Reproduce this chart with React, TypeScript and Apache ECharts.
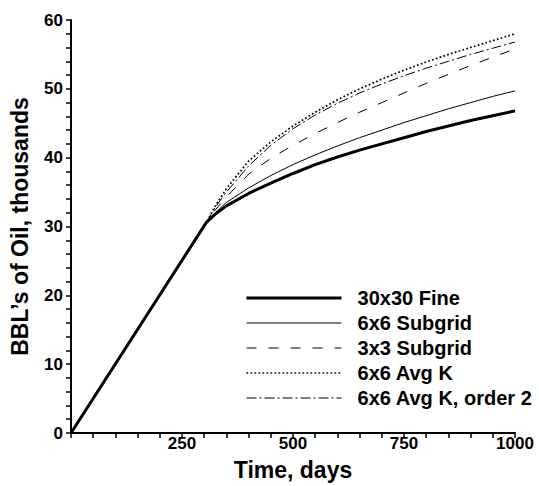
import React, { useEffect, useRef } from "react";
import * as echarts from "echarts";

const days = [0, 305, 325, 350, 400, 450, 500, 550, 600, 650, 700, 750, 800, 850, 900, 950, 1000];
const fine30 = [0, 30.6, 31.8, 33.0, 34.8, 36.3, 37.7, 39.0, 40.1, 41.1, 42.0, 42.9, 43.8, 44.6, 45.4, 46.1, 46.8];
const sub6 = [0, 30.6, 32.0, 33.5, 35.6, 37.4, 39.0, 40.4, 41.7, 42.9, 44.0, 45.1, 46.1, 47.1, 48.0, 48.9, 49.7];
const sub3 = [0, 30.6, 32.4, 34.3, 37.6, 39.9, 41.8, 43.5, 45.1, 46.6, 48.0, 49.4, 50.8, 52.1, 53.4, 54.6, 55.8];
const avgK = [0, 30.6, 33.0, 35.5, 39.5, 42.3, 44.6, 46.6, 48.4, 50.0, 51.4, 52.7, 53.9, 55.0, 56.0, 57.0, 58.0];
const avgK2 = [0, 30.6, 32.8, 35.0, 38.8, 41.8, 44.2, 46.2, 47.9, 49.4, 50.7, 51.9, 53.0, 54.0, 55.0, 55.9, 56.8];
const seriesNames = ["30x30 Fine", "6x6 Subgrid", "3x3 Subgrid", "6x6 Avg K", "6x6 Avg K, order 2"];
const xTicks = [0, 250, 500, 750, 1000];
const yTicks = [0, 10, 20, 30, 40, 50, 60];

const FONT = "'Liberation Sans', Arial, sans-serif";

export default function App() {
  const ref = useRef<HTMLDivElement>(null);
  useEffect(() => {
    if (!ref.current) return;
    const chart = echarts.init(ref.current, undefined, { renderer: "svg" });
    const mk = (vals: number[]) => days.map((d, i) => [d, vals[i]]);
    const styles: any[] = [
      { width: 3, type: "solid" },
      { width: 1, type: "solid" },
      { width: 1, type: [10, 12] },
      { width: 1.7, type: [1.7, 2.3] },
      { width: 1, type: [10, 3, 2, 3] },
    ];
    const all = [fine30, sub6, sub3, avgK, avgK2];
    chart.setOption({
      animation: false,
      backgroundColor: "#ffffff",
      grid: { left: 70, right: 24, top: 20, bottom: 52, containLabel: false },
      legend: {
        orient: "vertical",
        left: 245,
        top: 288,
        padding: 0,
        itemWidth: 95,
        itemHeight: 20,
        itemGap: 5,
        data: seriesNames.map((n, i) => ({
          name: n,
          lineStyle: { color: "#000", ...styles[i] },
        })),
        itemStyle: { opacity: 0, borderWidth: 0 },
        formatter: (n: string) => "  " + n,
        textStyle: {
          fontFamily: FONT,
          fontWeight: "bold",
          fontSize: 20,
          color: "#000",
        },
      },
      xAxis: {
        type: "value",
        min: xTicks[0],
        max: xTicks[xTicks.length - 1],
        interval: 250,
        name: "Time, days",
        nameLocation: "middle",
        nameGap: 25,
        nameTextStyle: { fontFamily: FONT, fontWeight: "bold", fontSize: 23, color: "#000" },
        axisLine: { show: true, lineStyle: { color: "#000", width: 2 } },
        axisTick: { show: true, length: 5, lineStyle: { color: "#000", width: 1.5 } },
        minorTick: { show: true, splitNumber: 5, length: 5, lineStyle: { color: "#000", width: 1.5 } },
        splitLine: { show: false },
        axisLabel: {
          margin: 2,
          fontFamily: FONT,
          fontWeight: "bold",
          fontSize: 17,
          color: "#000",
          formatter: (v: number) => (v === 0 ? "" : String(v)),
        },
      },
      yAxis: {
        type: "value",
        min: yTicks[0],
        max: yTicks[yTicks.length - 1],
        interval: 10,
        name: "BBL\u2019s of Oil, thousands",
        nameLocation: "middle",
        nameGap: 40,
        nameTextStyle: { fontFamily: FONT, fontWeight: "bold", fontSize: 23, color: "#000" },
        axisLine: { show: true, lineStyle: { color: "#000", width: 2 } },
        axisTick: { show: true, length: 5, lineStyle: { color: "#000", width: 1.5 } },
        minorTick: { show: true, splitNumber: 5, length: 5, lineStyle: { color: "#000", width: 1.5 } },
        splitLine: { show: false },
        axisLabel: { margin: 8, fontFamily: FONT, fontWeight: "bold", fontSize: 17, color: "#000" },
      },
      series: all.map((vals, i) => ({
        name: seriesNames[i],
        type: "line",
        data: mk(vals),
        showSymbol: false,
        symbol: "none",
        smooth: false,
        z: 10 - i,
        color: "#000",
        lineStyle: { color: "#000", ...styles[i] },
      })),
    });
    return () => chart.dispose();
  }, []);
  return <div ref={ref} style={{ width: 539, height: 486, position: "absolute", left: 0, top: 0 }} />;
}
